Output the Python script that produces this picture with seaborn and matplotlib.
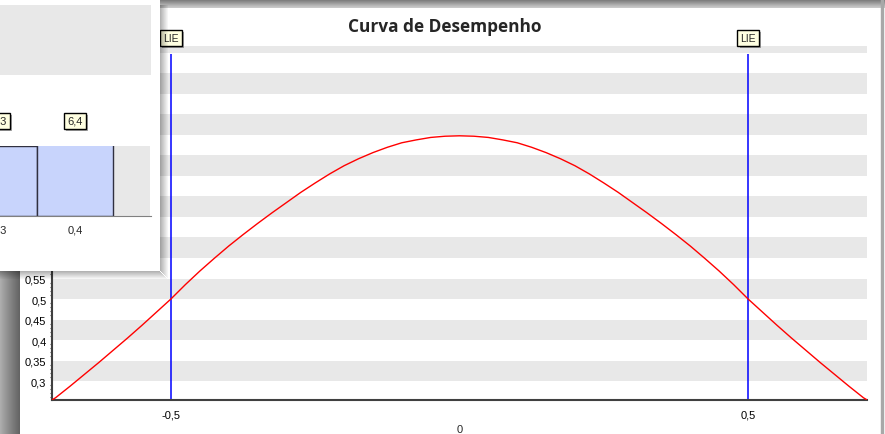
import numpy as np
import matplotlib
matplotlib.use("Agg")
import matplotlib.pyplot as plt
import matplotlib.patheffects as pe
from matplotlib.patches import Rectangle
from matplotlib.ticker import MultipleLocator
import seaborn as sns

# main chart: performance curve
curve_x = [-0.706, -0.700, -0.675, -0.650, -0.625, -0.600, -0.575, -0.550, -0.525,
           -0.500, -0.475, -0.450, -0.425, -0.400, -0.375, -0.350, -0.325, -0.300,
           -0.275, -0.250, -0.225, -0.200, -0.175, -0.150, -0.125, -0.100, -0.075,
           -0.050, -0.025, 0.000, 0.025, 0.050, 0.075, 0.100, 0.125, 0.150, 0.175,
           0.200, 0.225, 0.250, 0.275, 0.300, 0.325, 0.350, 0.375, 0.400, 0.425,
           0.450, 0.475, 0.500, 0.525, 0.550, 0.575, 0.600, 0.625, 0.650, 0.675,
           0.700, 0.706]
curve_y = [0.254, 0.259, 0.287, 0.316, 0.345, 0.375, 0.405, 0.436, 0.468,
           0.500, 0.535, 0.568, 0.599, 0.629, 0.657, 0.684, 0.710, 0.735,
           0.760, 0.783, 0.805, 0.825, 0.842, 0.857, 0.870, 0.881, 0.888,
           0.894, 0.897, 0.898, 0.897, 0.894, 0.888, 0.881, 0.870, 0.857, 0.842,
           0.825, 0.805, 0.783, 0.760, 0.735, 0.710, 0.684, 0.657, 0.629, 0.599,
           0.568, 0.535, 0.500, 0.468, 0.436, 0.405, 0.375, 0.345, 0.316, 0.287,
           0.259, 0.254]
limit_x = [-0.5, 0.5]
limit_labels = ["LIE", "LIE"]
y_ticks = [0.3, 0.35, 0.4, 0.45, 0.5, 0.55]
x_labels = {-0.5: "-0,5", 0.5: "0,5"}

# window in front (bar chart, mostly hidden)
bar_cats = ["0,3", "0,4"]
bar_vals = [5.3, 6.4]
bar_texts = ["5,3", "6,4"]

W, H = 885, 435
sns.set_style("white")
plt.rcParams["font.family"] = ["Liberation Sans", "DejaVu Sans"]
plt.rcParams["font.size"] = 8

fig = plt.figure(figsize=(W / 100, H / 100), dpi=100)
fig.patch.set_facecolor("white")


def px_axes(x0, y0, x1, y1, **kw):
    return fig.add_axes([x0 / W, 1 - y1 / H, (x1 - x0) / W, (y1 - y0) / H], **kw)


# screen background / window frames
bg = px_axes(0, 0, W, H, zorder=0)
bg.set_xlim(0, W)
bg.set_ylim(H, 0)
bg.axis("off")
grad = np.linspace(0, 1, 50).reshape(1, -1)
bg.imshow(grad, extent=(0, 20, H, 260), cmap="Greys", vmin=-1.6, vmax=2.2, aspect="auto")
bg.imshow(np.linspace(1, 0, 20).reshape(-1, 1), extent=(150, 885, 9, 0), cmap="Greys",
          vmin=-1.0, vmax=2.2, aspect="auto")
bg.add_patch(Rectangle((881, 0), 2, H, color="#a8a8a8"))

# main chart
ax = px_axes(52, 47, 867, 401, zorder=1)
ax.set_facecolor("white")
for b in np.arange(0.0, 1.2, 0.1):
    ax.axhspan(b, b + 0.05, color="#e8e8e8", lw=0, zorder=0)

sns.lineplot(x=curve_x, y=curve_y, color="#ff0000", lw=1, ax=ax, zorder=3)
ax.vlines(limit_x, 0.2, 1.098, color="#0000ff", lw=1.1, zorder=2)
ax.set_xlim(-0.706, 0.706)
ax.set_ylim(0.2537, 1.117)

for x, lab in zip(limit_x, limit_labels):
    t = ax.annotate(lab, xy=(x, 1), xycoords=("data", "axes fraction"),
                    xytext=(0, 5.6), textcoords="offset points",
                    ha="center", va="center", fontsize=7.5,
                    bbox=dict(boxstyle="square,pad=0.28", fc="#ffffe1", ec="black", lw=1))
    t.get_bbox_patch().set_path_effects([
        pe.SimplePatchShadow(offset=(1.5, -1.5), shadow_rgbFace="black", alpha=0.35),
        pe.Normal()])

ax.set_yticks(y_ticks, labels=[f"{v:g}".replace(".", ",") for v in y_ticks])
ax.yaxis.set_minor_locator(MultipleLocator(0.01))
xt = np.arange(-0.625, 0.626, 0.125)
ax.set_xticks(xt, labels=[x_labels.get(round(v, 3), "") for v in xt])
ax.text(0, -0.082, "0", transform=ax.get_xaxis_transform(), ha="center", va="center",
        fontsize=8)
ax.tick_params(axis="both", which="major", length=2.5, width=1, color="#505050",
               labelcolor="black")
ax.tick_params(axis="y", which="minor", length=1.5, width=0.8, color="#505050", left=True)
ax.tick_params(axis="y", pad=1.5)
ax.tick_params(axis="x", pad=4.5)
for s in ["top", "right"]:
    ax.spines[s].set_visible(False)
for s in ["left", "bottom"]:
    ax.spines[s].set_color("#404040")
    ax.spines[s].set_linewidth(1.5)

fig.text(445 / W, 1 - 27 / H, "Curva de Desempenho", ha="center", va="center",
         fontsize=12.4, fontweight="bold", family=["Open Sans", "DejaVu Sans"])

# overlapping window at top-left
win = px_axes(0, 0, 170, 282, zorder=5)
win.set_xlim(0, 170)
win.set_ylim(282, 0)
win.axis("off")
win.patch.set_visible(False)
for i in range(8):
    a = 0.30 * (1 - i / 8)
    win.add_patch(Rectangle((160 + i, 6), 1, 266 + i, color="black", alpha=a, lw=0))
    win.add_patch(Rectangle((0, 272 + i), 160 + i, 1, color="black", alpha=a, lw=0))
win.add_patch(Rectangle((0, 0), 160, 272, color="white", lw=0))
win.add_patch(Rectangle((0, 6), 151, 70, color="#e8e8e8", lw=0))

bx = px_axes(-81, 147, 150, 217, zorder=6)
bx.set_facecolor("#e8e8e8")
sns.barplot(x=bar_cats, y=bar_vals, color="#c8d4fc", saturation=1, width=1,
            edgecolor="#303040", linewidth=1, ax=bx)
bx.set_xlim(-1.05, 1.987)
bx.set_ylim(0, min(bar_vals))
bx.set_yticks([])
for i, lab in enumerate(bar_texts):
    t = bx.annotate(lab, xy=(i, 1), xycoords=("data", "axes fraction"),
                    xytext=(0, 18), textcoords="offset points",
                    ha="center", va="center", fontsize=8,
                    bbox=dict(boxstyle="square,pad=0.28", fc="#ffffe1", ec="black", lw=1))
    t.get_bbox_patch().set_path_effects([
        pe.SimplePatchShadow(offset=(1.5, -1.5), shadow_rgbFace="black", alpha=0.35),
        pe.Normal()])
bx.tick_params(axis="x", length=3, color="#808080", pad=3, labelsize=8)
for s in ["top", "right", "left"]:
    bx.spines[s].set_visible(False)
bx.spines["bottom"].set_color("#808080")
bx.spines["bottom"].set_bounds(-1.05, 2.0)
bx.spines["bottom"].set_clip_on(False)

fig.savefig("out.png", dpi=100)
